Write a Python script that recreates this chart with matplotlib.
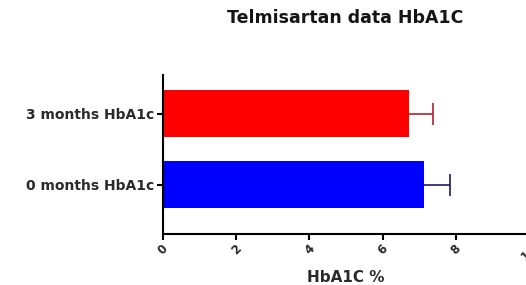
import matplotlib
matplotlib.use("Agg")
import matplotlib.pyplot as plt

plt.rcParams["font.family"] = ["DejaVu Sans"]

groups = ["0 months HbA1c", "3 months HbA1c"]
means = [7.13, 6.72]
errors = [0.71, 0.65]
bar_colors = ["#0000ff", "#ff0000"]
err_colors = ["#1a1a6e", "#b02030"]
xticks = [0, 2, 4, 6, 8, 10]

fig = plt.figure(figsize=(5.26, 2.85), dpi=100)
ax = fig.add_axes([0.31, 0.179, 0.696, 0.558])

ypos = list(range(len(groups)))
# symmetric error bars drawn under the bars, so only the upper half shows
for y, m, e, c in zip(ypos, means, errors, err_colors):
    ax.errorbar([m], [y], xerr=[e], fmt="none", ecolor=c,
                elinewidth=1.2, capsize=8, capthick=1.2, zorder=1)
ax.barh(ypos, means, height=0.665, color=bar_colors, zorder=2)

ax.set_xlim(0, 10)
ax.set_ylim(-0.70, 1.55)
ax.set_yticks(ypos)
ax.set_yticklabels(groups, fontsize=10, fontweight="bold", color="#2a2a2a")
ax.set_xticks(xticks)
ax.set_xticklabels([str(t) for t in xticks], rotation=45, fontsize=8.5,
                   fontweight="bold", color="#2a2a2a", ha="center")

for side in ("top", "right"):
    ax.spines[side].set_visible(False)
for side in ("left", "bottom"):
    ax.spines[side].set_linewidth(1.5)
ax.tick_params(axis="both", width=1.5, length=4, pad=2)

ax.set_xlabel("HbA1C %", fontsize=11, fontweight="bold", color="#2a2a2a", labelpad=5)
fig.text(0.656, 0.937, "Telmisartan data HbA1C", fontsize=12.5, fontweight="bold",
         ha="center", va="center", color="#151515")

fig.savefig("out.png", dpi=100)
